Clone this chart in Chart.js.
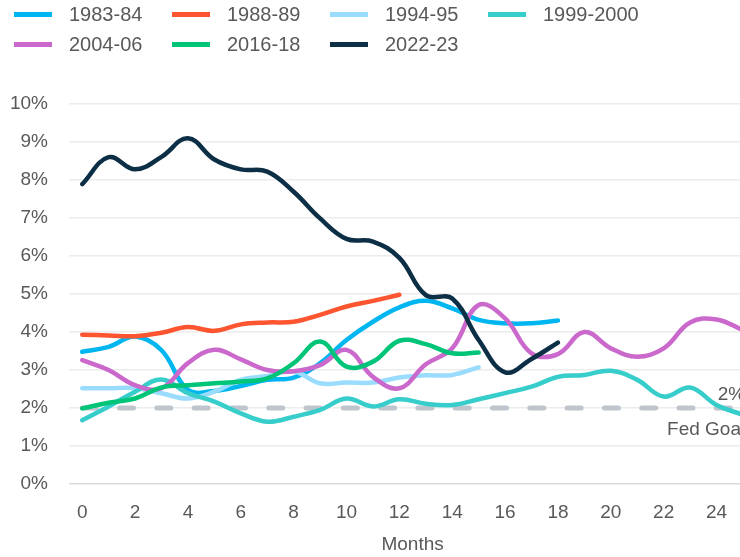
<!DOCTYPE html>
<html>
<head>
<meta charset="utf-8">
<script src="https://cdn.jsdelivr.net/npm/chart.js@4.4.1/dist/chart.umd.min.js"></script>
<style>
  html, body { margin: 0; padding: 0; background: #fff; overflow: hidden; }
  body { width: 740px; height: 557px; position: relative; font-family: "Liberation Sans", Arial, sans-serif; }
  #wrap { position: absolute; left: 0; top: 0; width: 760px; height: 557px; }
  #legend { position: absolute; left: 14px; top: 3px; display: grid; grid-template-columns: repeat(4, 158px); row-gap: 8px; }
  .item { display: flex; align-items: center; height: 22px; color: #595959; font-size: 20px; }
  .swatch { width: 38px; height: 5px; margin-right: 17px; }
</style>
</head>
<body>
<div id="wrap"><canvas id="inflationChart"></canvas></div>
<div id="legend"></div>
<script>
const months = ['0','1','2','3','4','5','6','7','8','9','10','11','12','13','14','15','16','17','18','19','20','21','22','23','24','25'];
const yTicks = [0, 1, 2, 3, 4, 5, 6, 7, 8, 9, 10];

const s1983 = [3.48, 3.61, 3.88, 3.52, 2.48, 2.45, 2.58, 2.74, 2.8, 3.18, 3.79, 4.27, 4.65, 4.82, 4.62, 4.32, 4.23, 4.23, 4.3];
const s1988 = [3.93, 3.91, 3.89, 3.98, 4.13, 4.03, 4.2, 4.25, 4.27, 4.45, 4.67, 4.82, 4.98];
const s1994 = [2.52, 2.52, 2.52, 2.39, 2.25, 2.43, 2.74, 2.84, 2.96, 2.65, 2.67, 2.67, 2.8, 2.86, 2.87, 3.07];
const s1999 = [1.68, 2.04, 2.43, 2.75, 2.39, 2.17, 1.86, 1.64, 1.77, 1.95, 2.25, 2.04, 2.23, 2.11, 2.08, 2.23, 2.39, 2.56, 2.82, 2.87, 2.98, 2.74, 2.3, 2.54, 2.08, 1.82];
const s2004 = [3.26, 3.0, 2.6, 2.52, 3.18, 3.53, 3.28, 3.0, 2.97, 3.13, 3.53, 2.82, 2.52, 3.15, 3.57, 4.71, 4.36, 3.44, 3.42, 4.0, 3.57, 3.35, 3.57, 4.25, 4.33, 4.05];
const s2016 = [1.99, 2.14, 2.25, 2.54, 2.6, 2.65, 2.7, 2.78, 3.18, 3.75, 3.09, 3.22, 3.77, 3.68, 3.44, 3.46];
const s2022 = [7.89, 8.6, 8.28, 8.61, 9.1, 8.54, 8.28, 8.22, 7.69, 6.99, 6.45, 6.38, 5.95, 4.97, 4.88, 3.79, 2.94, 3.29, 3.72];

const seriesNames = ['1983-84', '1988-89', '1994-95', '1999-2000', '2004-06', '2016-18', '2022-23'];
const seriesData = [s1983, s1988, s1994, s1999, s2004, s2016, s2022];
const seriesColors = ['#00b6f0', '#fd5530', '#99dcfd', '#36cdcb', '#cb68cc', '#00c478', '#0c2f46'];

const fedGoal = 2;
const fedGoalLabel = '2%';
const fedGoalText = 'Fed Goal';
const axisTitle = 'Months';

const textColor = '#595959';
const fontFamily = '"Liberation Sans", Arial, sans-serif';

// legend in two rows, fixed columns like the original
const legendEl = document.getElementById('legend');
seriesNames.forEach((name, i) => {
  const item = document.createElement('div');
  item.className = 'item';
  item.innerHTML = '<span class="swatch" style="background:' + seriesColors[i] + '"></span>' + name;
  legendEl.appendChild(item);
});

// draws the "2%" / "Fed Goal" note at the right end of the goal line
const fedGoalNote = {
  id: 'fedGoalNote',
  afterDatasetsDraw(chart) {
    const { ctx, chartArea, scales } = chart;
    const y = scales.y.getPixelForValue(fedGoal);
    const x = chartArea.right - 11;
    ctx.save();
    ctx.fillStyle = textColor;
    ctx.font = '19px ' + fontFamily;
    ctx.textAlign = 'right';
    ctx.textBaseline = 'middle';
    ctx.fillText(fedGoalLabel, x, y - 13);
    ctx.fillText(fedGoalText, x, y + 22);
    ctx.restore();
  }
};

const datasets = seriesNames.map((name, i) => ({
  label: name,
  data: seriesData[i],
  borderColor: seriesColors[i],
  backgroundColor: seriesColors[i],
  borderWidth: 4.5,
  pointRadius: 0,
  tension: 0.4,
  borderCapStyle: 'round',
  borderJoinStyle: 'round',
  order: seriesNames.length - i
}));

datasets.push({
  label: fedGoalText,
  data: [{ x: months[0], y: fedGoal }, { x: months[months.length - 1], y: fedGoal }],
  borderColor: '#bec5cd',
  borderWidth: 5,
  borderDash: [14, 23.3],
  borderCapStyle: 'round',
  pointRadius: 0,
  order: 100
});

new Chart(document.getElementById('inflationChart'), {
  type: 'line',
  data: { labels: months, datasets },
  options: {
    responsive: true,
    maintainAspectRatio: false,
    animation: false,
    layout: { padding: { top: 104, right: 2, bottom: 0, left: 0 } },
    plugins: {
      legend: { display: false },
      tooltip: { enabled: false }
    },
    scales: {
      x: {
        type: 'category',
        offset: true,
        grid: { display: false, drawTicks: false },
        border: { display: false },
        afterFit: s => { s.height = 73; },
        ticks: {
          autoSkip: false,
          maxRotation: 0,
          padding: 17,
          color: textColor,
          font: { size: 19, family: fontFamily },
          callback: (v, i) => (i % 2 === 0 ? months[i] : '')
        },
        title: {
          display: true,
          text: axisTitle,
          color: textColor,
          font: { size: 19, family: fontFamily },
          padding: { top: 0, bottom: 1 }
        }
      },
      y: {
        min: 0,
        max: 10,
        afterFit: s => { s.width = 69; },
        afterBuildTicks: s => { s.ticks = yTicks.map(v => ({ value: v })); },
        grid: {
          drawTicks: false,
          lineWidth: 1.5,
          color: c => (c.tick && c.tick.value === 0 ? '#d9d9d9' : '#ececec')
        },
        border: { display: false },
        ticks: {
          padding: 21,
          color: textColor,
          font: { size: 19, family: fontFamily },
          callback: v => v + '%'
        }
      }
    }
  },
  plugins: [fedGoalNote]
});
</script>
</body>
</html>
